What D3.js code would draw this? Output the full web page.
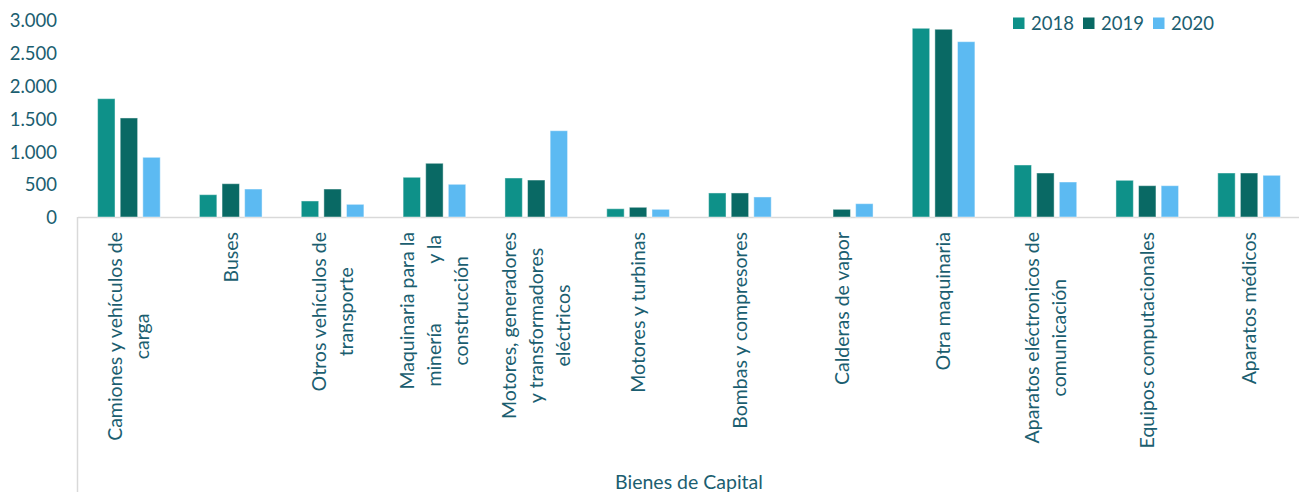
<!DOCTYPE html>
<html>
<head>
<meta charset="utf-8">
<script src="https://cdn.jsdelivr.net/npm/d3@7"></script>
<style>
  html, body { margin: 0; padding: 0; background: #ffffff; }
  svg { display: block; }
  text { font-family: Lato, "Open Sans", sans-serif; fill: #1b5e70; }
</style>
</head>
<body>
<svg id="chart" width="1299" height="492"></svg>
<script>
const categories = [
  ["Camiones y vehículos de", "carga"],
  ["Buses"],
  ["Otros vehículos de", "transporte"],
  ["Maquinaria para la", "minería\u00A0\u00A0\u00A0\u00A0\u00A0\u00A0\u00A0\u00A0\u00A0\u00A0\u00A0\u00A0y la", "construcción"],
  ["Motores, generadores", "y transformadores", "eléctricos"],
  ["Motores y turbinas"],
  ["Bombas y compresores"],
  ["Calderas de vapor"],
  ["Otra maquinaria"],
  ["Aparatos eléctronicos de", "comunicación"],
  ["Equipos computacionales"],
  ["Aparatos médicos"]
];
const seriesNames = ["2018", "2019", "2020"];
const values2018 = [1802, 340, 244, 605, 594, 126, 366, 0, 2874, 792, 559, 670];
const values2019 = [1508, 507, 426, 818, 563, 148, 366, 117, 2859, 670, 477, 670];
const values2020 = [909, 426, 193, 498, 1314, 117, 305, 203, 2670, 533, 477, 635];
const yTicks = [0, 500, 1000, 1500, 2000, 2500, 3000];
const axisTitle = "Bienes de Capital";
const colors = ["#0e9189", "#096964", "#5cbaf2"];

const seriesValues = [values2018, values2019, values2020];
const catKeys = categories.map((c, i) => i);

const svg = d3.select("#chart");
const left = 78, right = 1300, baseY = 217, topY = 20;

const x0 = d3.scaleBand().domain(catKeys).range([left, right])
  .paddingInner(0.385).paddingOuter(0.1925);
const x1 = d3.scaleBand().domain(seriesNames).range([0, x0.bandwidth()])
  .paddingInner(0.23).paddingOuter(0);
const y = d3.scaleLinear().domain([0, 3000]).range([baseY, topY]);
const color = d3.scaleOrdinal().domain(seriesNames).range(colors);

const fmt = d3.formatLocale({decimal: ",", thousands: ".", grouping: [3], currency: ["", ""]}).format(",d");

// Axis lines
svg.append("line").attr("x1", left).attr("x2", 1299).attr("y1", baseY + 0.5).attr("y2", baseY + 0.5)
  .attr("stroke", "#d9d9d9").attr("stroke-width", 1.5);
svg.append("line").attr("x1", left - 0.5).attr("x2", left - 0.5).attr("y1", baseY).attr("y2", 492)
  .attr("stroke", "#d9d9d9").attr("stroke-width", 1.5);

// Y axis labels
const yAxis = d3.axisLeft(y).tickValues(yTicks).tickFormat(fmt).tickSize(0).tickPadding(0);
const yg = svg.append("g").attr("transform", "translate(57,0)").call(yAxis);
yg.select(".domain").remove();
yg.selectAll("text").attr("font-size", 18.5).style("font-family", "Lato, sans-serif").attr("fill", "#1b5e70").attr("dy", "0.36em");

// Bars
const groups = svg.append("g").selectAll("g").data(catKeys).join("g")
  .attr("transform", d => `translate(${x0(d)},0)`);
groups.selectAll("rect").data(i => seriesNames.map((s, k) => ({s, v: seriesValues[k][i]})))
  .join("rect")
  .filter(d => d.v > 0)
  .attr("x", d => x1(d.s))
  .attr("width", x1.bandwidth())
  .attr("y", d => y(d.v))
  .attr("height", d => y(0) - y(d.v))
  .attr("fill", d => color(d.s))
  .attr("stroke", "rgba(255,255,255,0.45)")
  .attr("stroke-width", 1);

// X category labels (rotated)
const lineH = 27;
const labelTop = 232;
catKeys.forEach(i => {
  const lines = categories[i];
  const cx = x0(i) + x0.bandwidth() / 2;
  const g = svg.append("g");
  const texts = lines.map((ln, j) => g.append("text")
    .attr("font-size", 19.5)
    .attr("text-anchor", "middle")
    .style("white-space", "pre")
    .text(ln));
  const maxLen = d3.max(texts, t => t.node().getComputedTextLength());
  const cy = labelTop + maxLen / 2;
  const n = lines.length;
  texts.forEach((t, j) => {
    const lx = cx + (j - (n - 1) / 2) * lineH;
    t.attr("transform", `translate(${lx},${cy}) rotate(-90)`).attr("dy", "0.35em");
  });
});

// Axis title
svg.append("text").attr("x", (left + right) / 2).attr("y", 489)
  .attr("text-anchor", "middle").attr("font-size", 19.5).text(axisTitle);

// Legend
const legend = svg.append("g");
const legendX = [1013, 1083, 1153];
seriesNames.forEach((s, k) => {
  legend.append("rect").attr("x", legendX[k]).attr("y", 17.5).attr("width", 11.5).attr("height", 11.5)
    .attr("fill", color(s));
  legend.append("text").attr("x", legendX[k] + 18).attr("y", 29.5).attr("font-size", 18.5).text(s);
});
</script>
</body>
</html>
